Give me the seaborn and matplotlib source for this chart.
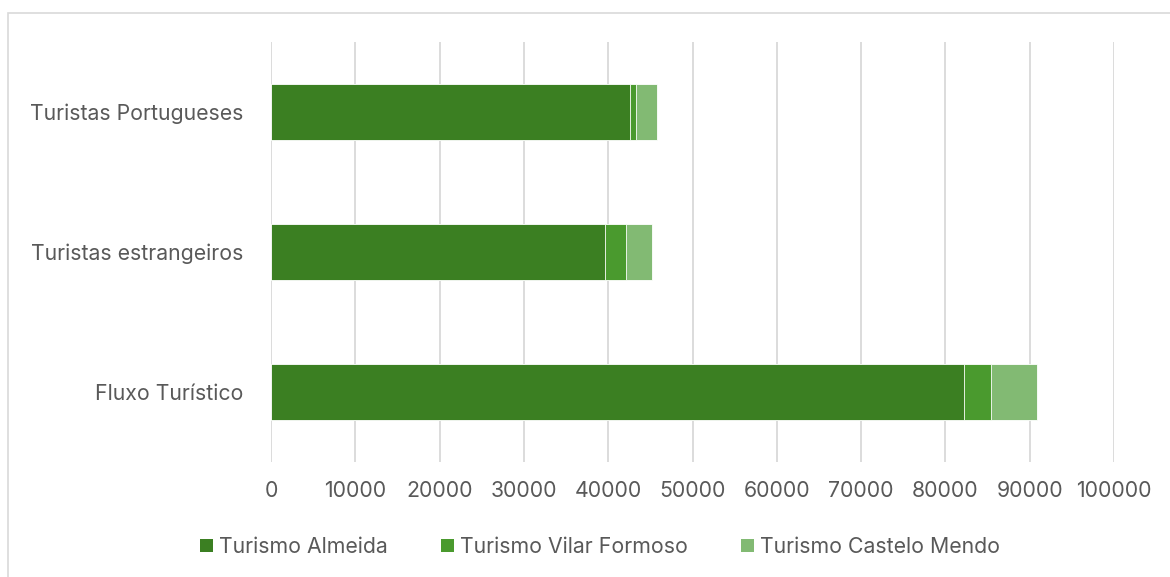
import matplotlib
matplotlib.use("Agg")
import matplotlib.pyplot as plt
import seaborn as sns
import pandas as pd
from matplotlib.patches import Patch, Rectangle

categories = ["Turistas Portugueses", "Turistas estrangeiros", "Fluxo Turístico"]
almeida = [42570, 39600, 82250]
vilar_formoso = [710, 2490, 3200]
castelo_mendo = [2450, 3090, 5400]
series_names = ["Turismo Almeida", "Turismo Vilar Formoso", "Turismo Castelo Mendo"]
x_ticks = list(range(0, 100001, 10000))

colors = ["#3B7F22", "#4A9A2E", "#82BA73"]
text_color = "#595959"
fs = 15.3

sns.set_theme(style="white")
plt.rcParams["font.family"] = ["Inter", "DejaVu Sans"]

df = pd.DataFrame({
    "categoria": categories,
    "almeida": almeida,
    "vilar": vilar_formoso,
    "castelo": castelo_mendo,
})
df["c1"] = df["almeida"]
df["c2"] = df["c1"] + df["vilar"]
df["c3"] = df["c2"] + df["castelo"]

fig = plt.figure(figsize=(11.70, 5.77), dpi=100)
ax = fig.add_axes([271 / 1170, 1 - 462 / 577, 843 / 1170, 420 / 577])

# stacked horizontal bars: draw cumulative totals from the widest layer down
for col, color in zip(["c3", "c2", "c1"], colors[::-1]):
    sns.barplot(data=df, x=col, y="categoria", order=categories, color=color,
                saturation=1, width=0.4, edgecolor="#FFFFFF", linewidth=0.6,
                ax=ax, zorder=3)

ax.set_xlim(0, 100000)
ax.set_ylim(2.5, -0.5)
ax.set_xticks(x_ticks)
ax.set_xticklabels([str(v) for v in x_ticks])
ax.xaxis.grid(True, color="#D9D9D9", linewidth=1.3, zorder=0)
ax.yaxis.grid(False)
for s in ax.spines.values():
    s.set_visible(False)
ax.set_xlabel("")
ax.set_ylabel("")
ax.tick_params(axis="x", length=0, pad=14, labelsize=fs, labelcolor=text_color)
ax.tick_params(axis="y", length=0, pad=20, labelsize=fs, labelcolor=text_color)

handles = [Patch(facecolor=c, edgecolor="none", label=n) for c, n in zip(colors, series_names)]
fig.legend(handles=handles, loc="center", bbox_to_anchor=(0.513, 1 - 547 / 577),
           ncol=3, frameon=False, fontsize=fs, labelcolor=text_color,
           handlelength=0.6, handleheight=0.6, handletextpad=0.3, columnspacing=2.5)

fig.patches.append(Rectangle((8 / 1170, -0.05), 1.2, 1.05 - 13 / 577,
                             transform=fig.transFigure, fill=False,
                             edgecolor="#D9D9D9", linewidth=1.2))

fig.savefig("out.png", dpi=100, facecolor="white")
